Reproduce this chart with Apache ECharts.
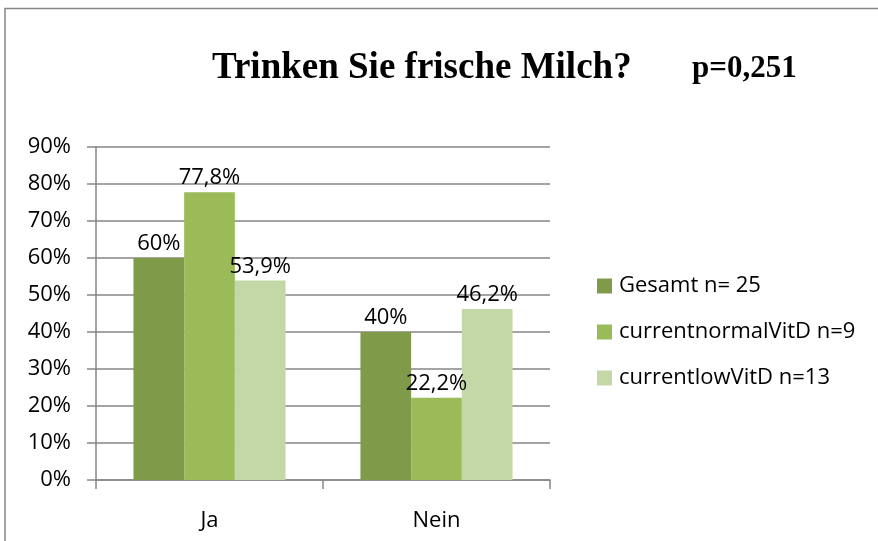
<!DOCTYPE html>
<html>
<head>
<meta charset="utf-8">
<script src="https://cdn.jsdelivr.net/npm/echarts@6/dist/echarts.min.js"></script>
<style>
  html, body { margin: 0; padding: 0; background: #fff; }
  #box { width: 878px; height: 541px; }
</style>
</head>
<body>
<div id="box"></div>
<script>
// categories and series (percent)
let categories = ["Ja", "Nein"];
let seriesNames = ["Gesamt n= 25", "currentnormalVitD n=9", "currentlowVitD n=13"];
let gesamt = [60, 40];
let normalVitD = [77.8, 22.2];
let lowVitD = [53.9, 46.2];
let yTicks = [0, 10, 20, 30, 40, 50, 60, 70, 80, 90];

let colors = ["#7f9a48", "#9bbb59", "#c4d7a6"];
let font = "'Open Sans', 'Liberation Sans', sans-serif";
let grey = "#868686";

let chart = echarts.init(document.getElementById("box"), null, { renderer: "canvas" });

function pct(v) {
  return String(v).replace(".", ",") + "%";
}

let series = [gesamt, normalVitD, lowVitD].map((vals, i) => ({
  type: "bar",
  name: seriesNames[i],
  data: vals,
  barGap: "0%",
  barCategoryGap: "33%",
  itemStyle: { color: colors[i] },
  label: {
    show: true,
    position: "top",
    distance: 3,
    color: "#000",
    fontFamily: font,
    fontSize: 22,
    formatter: p => pct(p.value)
  }
}));

let option = {
  animation: false,
  title: [
    {
      text: "Trinken Sie frische Milch?",
      left: 207,
      top: 45,
      textStyle: { fontFamily: "'Liberation Serif', serif", fontWeight: "bold", fontSize: 37, color: "#000" }
    },
    {
      text: "p=0,251",
      left: 687,
      top: 48,
      textStyle: { fontFamily: "'Liberation Serif', serif", fontWeight: "bold", fontSize: 31, color: "#000" }
    }
  ],
  // chart frame: only top and left edges are visible
  graphic: [
    {
      type: "polyline",
      shape: { points: [[5, 541], [5, 8.5], [878, 8.5]] },
      style: { fill: "none", stroke: grey, lineWidth: 1.5 },
      silent: true
    }
  ],
  legend: {
    orient: "vertical",
    left: 592,
    top: 270,
    itemWidth: 15,
    itemHeight: 15,
    itemGap: 24,
    icon: "rect",
    textStyle: { fontFamily: font, fontSize: 22, color: "#000", padding: [0, 0, 0, 2] },
    data: seriesNames
  },
  grid: { left: 96, right: 328, top: 147, bottom: 61 },
  xAxis: {
    type: "category",
    data: categories,
    axisLine: { lineStyle: { color: grey, width: 1.5 } },
    axisTick: { show: true, length: 9, alignWithLabel: false, lineStyle: { color: grey, width: 1.5 } },
    axisLabel: { color: "#000", fontFamily: font, fontSize: 22, margin: 30 }
  },
  yAxis: {
    type: "value",
    min: 0,
    max: 90,
    interval: 10,
    axisLine: { show: true, lineStyle: { color: grey, width: 1.5 } },
    axisTick: { show: true, length: 9, lineStyle: { color: grey, width: 1.5 } },
    splitLine: { lineStyle: { color: grey, width: 1.5 } },
    axisLabel: {
      color: "#000",
      fontFamily: font,
      fontSize: 22,
      margin: 25,
      formatter: v => (yTicks.indexOf(v) >= 0 ? v + "%" : "")
    }
  },
  series: series
};

chart.setOption(option);
</script>
</body>
</html>
